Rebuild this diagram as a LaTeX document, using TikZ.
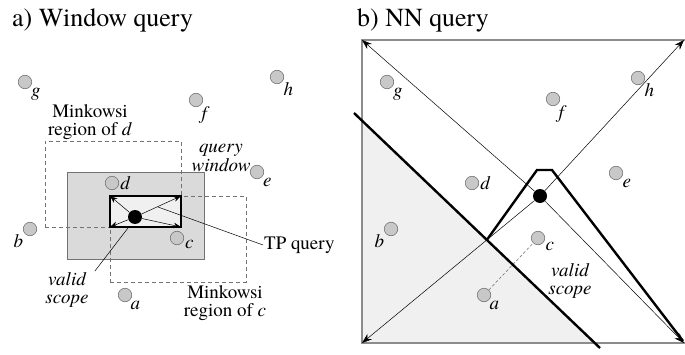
\documentclass[tikz,border=0pt]{standalone}
\usepackage{fontspec}
\setmainfont{TeX Gyre Termes}
\usetikzlibrary{arrows.meta,positioning,calc}
\definecolor{PtGray}{RGB}{200,200,200}
\definecolor{WinGray}{RGB}{218,218,218}
\definecolor{PaleGray}{RGB}{240,240,240}

\begin{document}
\begin{tikzpicture}[x=1pt, y=1pt,
    pt/.style={circle, draw=black!55, fill=PtGray, minimum size=13.5pt, inner sep=0pt, line width=0.6pt, label distance=0pt},
    lbl/.style={font=\fontsize{19}{18.5}\selectfont, inner sep=1pt},
    plbl/.style={font=\fontsize{19}{18.5}\selectfont\itshape, inner sep=1pt},
    ttl/.style={font=\fontsize{26}{28}\selectfont, anchor=base west, inner sep=0pt},
    dbox/.style={draw=black!55, dash pattern=on 4pt off 3pt, line width=0.6pt, inner sep=0pt, outer sep=0pt},
    qdot/.style={circle, fill=black, minimum size=14pt, inner sep=0pt},
    sarr/.style={-{Stealth[length=7.5pt,width=5.5pt]}, line width=0.5pt},
    larr/.style={-{Stealth[length=10pt,width=7pt]}, line width=0.5pt},
    scopeline/.style={line width=2.4pt}
  ]
  \useasboundingbox (0,0) rectangle (685,354);

  % a) window query
  \node[ttl] (ta) at (12,327) {a) Window query};
  \node[draw=black!55, fill=WinGray, minimum width=137pt, minimum height=87pt, inner sep=0pt, outer sep=0pt] (qwin) at (135.5,138.5) {};
  \node[dbox, minimum width=136pt, minimum height=86pt] (mkd) at (113,170) {};
  \node[dbox, minimum width=136pt, minimum height=86pt] (mkc) at (178,115) {};
  \node[draw, fill=PaleGray, line width=1.8pt, minimum width=71pt, minimum height=31pt, inner sep=0pt, outer sep=0pt] (vs) at (145.5,142.5) {};
  \node[qdot] (tp) at (135,137) {};
  \foreach \c in {north west, north east, south west, south east}
    \draw[sarr] (tp) -- (vs.\c);

  \node[pt, label={[plbl]-45:g}] (wg) at (25,272) {};
  \node[pt, label={[plbl]-50:f}] (wf) at (196,254) {};
  \node[pt, label={[plbl]-40:h}] (wh) at (277,277) {};
  \node[pt, label={[plbl]-45:e}] (we) at (257,182) {};
  \node[pt, label={[plbl]0:d}] (wd) at (112,171) {};
  \node[pt, label={[plbl]-10:c}] (wc) at (177,116) {};
  \node[pt, label={[plbl]-145:b}] (wb) at (30,125) {};
  \node[pt, label={[plbl]-50:a}] (wa) at (125,59) {};

  \node[lbl, align=center] (mdl) at (90,232) {Minkowsi\\region of \textit{d}};
  \node[lbl, align=center] (mcl) at (225,51) {Minkowsi\\region of \textit{c}};
  \node[plbl, align=center] (qwl) at (221,196) {query\\window};
  \node[plbl, align=center] (vsl) at (67,64) {valid\\scope};
  \node[lbl, anchor=west] (tpl) at (263,109) {TP query};
  \coordinate (tpin) at (158,147);
  \coordinate (vsin) at (128,126);
  \draw[line width=0.5pt] (tpin) -- (tpl.west);
  \draw[line width=0.5pt] (vsin) -- ($(vsl.north east)+(5,0)$);

  % b) NN query
  \node[ttl] (tb) at (357,327) {b) NN query};
  \coordinate (tl) at (362,314);
  \coordinate (tr) at (684,314);
  \coordinate (bl) at (362,11);
  \coordinate (br) at (684,11);
  \coordinate (s1) at (354,241);
  \coordinate (s2) at (600,6);
  \fill[PaleGray] (intersection of s1--s2 and tl--bl) -- (bl)
    -- (intersection of s1--s2 and bl--br) -- cycle;
  \draw[black!45, line width=1.3pt] (688,314) -- (tl) -- (bl) -- (688,11);
  \node[qdot] (nn) at (540,158) {};
  \foreach \c in {tl, tr, bl, br}
    \draw[larr] (nn) -- (\c);

  \node[pt, label={[plbl]-45:g}] (ng) at (387,272) {};
  \node[pt, label={[plbl]-50:f}] (nf) at (553,255) {};
  \node[pt, label={[plbl]-40:h}] (nh) at (638,276) {};
  \node[pt, label={[plbl]-40:e}] (ne) at (616,181) {};
  \node[pt, label={[plbl]0:d}] (nd) at (472,171) {};
  \node[pt, label={[plbl]-145:b}] (nb) at (391,125) {};
  \node[pt, label={[plbl]-25:c}] (nc) at (538,116) {};
  \node[pt, label={[plbl]-50:a}] (na) at (484,59) {};
  \draw[black!60, dash pattern=on 3pt off 2pt, line width=0.5pt] (na) -- (nc);

  \draw[scopeline] (s1) -- (s2);
  \coordinate (v2) at (537,184);
  \coordinate (v3) at (552,184);
  \coordinate (v4) at (683,13);
  \draw[scopeline] (intersection of s1--s2 and nn.center--bl) -- (v2) -- (v3) -- (v4);
  \node[plbl, align=center] (vsr) at (570,73) {valid\\scope};
\end{tikzpicture}
\end{document}
